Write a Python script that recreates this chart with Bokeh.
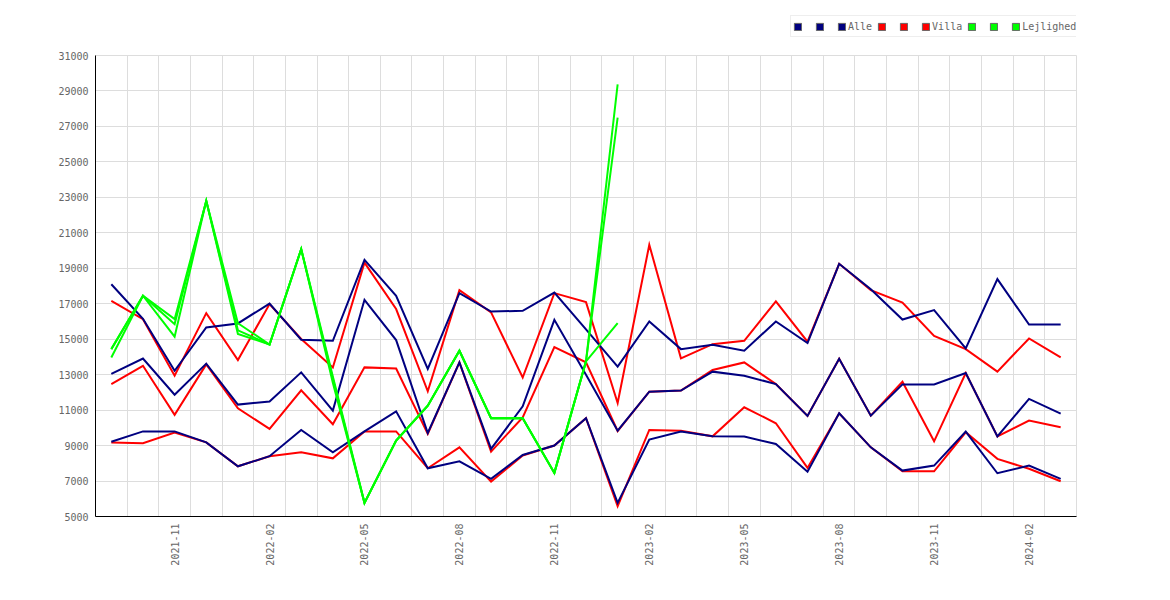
import math
from bokeh.plotting import figure
from bokeh.layouts import column
from bokeh.models import FixedTicker, Legend, LegendItem, Range1d
from bokeh.embed import file_html
from bokeh.resources import INLINE

# ---------------- data ----------------
months = ["2021-09", "2021-10", "2021-11", "2021-12", "2022-01", "2022-02", "2022-03",
          "2022-04", "2022-05", "2022-06", "2022-07", "2022-08", "2022-09", "2022-10",
          "2022-11", "2022-12", "2023-01", "2023-02", "2023-03", "2023-04", "2023-05",
          "2023-06", "2023-07", "2023-08", "2023-09", "2023-10", "2023-11", "2023-12",
          "2024-01", "2024-02", "2024-03"]

tick_months = ["2021-11", "2022-02", "2022-05", "2022-08", "2022-11",
               "2023-02", "2023-05", "2023-08", "2023-11", "2024-02"]

y_ticks = [5000, 7000, 9000, 11000, 13000, 15000, 17000, 19000, 21000,
           23000, 25000, 27000, 29000, 31000]

alle_hi = [18100, 16150, 13220, 15660, 15890, 17010, 14970, 14910, 19470, 17450, 13320,
           17600, 16560, 16600, 17630, 15550, 13450, 16000, 14440, 14690, 14350, 16000,
           14780, 19250, 17820, 16110, 16640, 14480, 18390, 15830, 15830]
alle_mid = [13040, 13910, 11870, 13620, 11310, 11490, 13130, 10970, 17220, 14950, 9710,
            13690, 8810, 11210, 16090, 13000, 9840, 12040, 12100, 13170, 12940, 12470,
            10670, 13900, 10690, 12450, 12450, 13090, 9520, 11630, 10800]
alle_lo = [9220, 9800, 9800, 9180, 7830, 8400, 9880, 8620, 9800, 10930, 7720, 8110, 7120,
           8470, 9000, 10540, 5770, 9340, 9790, 9520, 9505, 9090, 7530, 10820, 8900, 7590,
           7870, 9790, 7440, 7870, 7120]

villa_hi = [17160, 16130, 12940, 16470, 13820, 16980, 15010, 13400, 19320, 16700, 12060,
            17770, 16510, 12840, 17600, 17090, 11400, 20320, 13920, 14720, 14910, 17130,
            14860, 19250, 17770, 17070, 15190, 14440, 13170, 15040, 13970]
villa_mid = [12470, 13500, 10730, 13580, 11100, 9940, 12120, 10200, 13410, 13350, 9660,
             13690, 8660, 10590, 14550, 13700, 9820, 12040, 12100, 13260, 13690, 12470,
             10670, 13900, 10690, 12600, 9240, 13090, 9520, 10410, 10030]
villa_lo = [9170, 9130, 9730, 9180, 7830, 8400, 8620, 8280, 9800, 9800, 7720, 8900, 6970,
            8440, 9000, 10540, 5580, 9880, 9840, 9520, 11160, 10260, 7740, 10820, 8900,
            7550, 7550, 9750, 8250, 7690, 6990]

lej_a = [14440, 17450, 16130, 22800, 15900, 14700, 20080, 12900, 5770, 9280, 11250,
         14350, 10540, 10540, 7460, 13750, 29370]
lej_b = [14440, 17450, 15850, 22800, 15500, 14700, 20080, 12750, 5770, 9280, 11250,
         14350, 10540, 10540, 7460, 13750, 27490]
lej_c = [13970, 17450, 15140, 22800, 15300, 14700, 20080, 12550, 5770, 9280, 11250,
         14350, 10540, 10540, 7460, 13750, 15910]

series_names = ["Alle", "Villa", "Lejlighed"]

# ---------------- style ----------------
NAVY = "#000080"
RED = "#ff0000"
GREEN = "#00ff00"
FONT = "DejaVu Sans Mono"
GRID = "#dddddd"
TEXT = "#666666"

x = list(range(len(months)))

p = figure(frame_width=981, frame_height=461,
           x_range=Range1d(-0.5, len(months) - 0.5),
           y_range=Range1d(y_ticks[0], y_ticks[-1]),
           output_backend="svg", toolbar_location=None,
           min_border_left=95, min_border_top=8, min_border_right=80,
           min_border_bottom=60)
p.outline_line_color = GRID
p.background_fill_color = "white"
p.border_fill_color = "white"

# grids
p.ygrid.ticker = FixedTicker(ticks=y_ticks)
p.xgrid.ticker = FixedTicker(ticks=[i - 0.5 for i in range(len(months) + 1)])
for g in (p.xgrid[0], p.ygrid[0]):
    g.grid_line_color = GRID
    g.grid_line_width = 1

# axes
p.xaxis.ticker = FixedTicker(ticks=[months.index(m) for m in tick_months])
p.xaxis.major_label_overrides = {months.index(m): m for m in tick_months}
p.xaxis.major_label_orientation = math.pi / 2
p.yaxis.ticker = FixedTicker(ticks=y_ticks)
for ax in (p.xaxis[0], p.yaxis[0]):
    ax.axis_line_color = "black"
    ax.axis_line_width = 1
    ax.major_tick_out = 0
    ax.major_tick_in = 0
    ax.minor_tick_out = 0
    ax.minor_tick_in = 0
    ax.major_label_text_font = FONT
    ax.major_label_text_font_size = "10px"
    ax.major_label_text_color = TEXT
    ax.major_label_standoff = 7

# lines (red first, navy over it, green on top)
for ys, color in [(villa_hi, RED), (villa_mid, RED), (villa_lo, RED),
                  (alle_hi, NAVY), (alle_mid, NAVY), (alle_lo, NAVY),
                  (lej_a, GREEN), (lej_b, GREEN), (lej_c, GREEN)]:
    p.line(x[:len(ys)], ys, line_color=color, line_width=2, line_join="miter")

# ---------------- legend strip above the plot ----------------
leg = figure(width=1156, height=47, x_axis_type=None, y_axis_type=None,
             x_range=Range1d(0, 1), y_range=Range1d(0, 1),
             output_backend="svg", toolbar_location=None,
             min_border=0, outline_line_color=None)
leg.xgrid.visible = False
leg.ygrid.visible = False
leg.background_fill_color = "white"
leg.border_fill_color = "white"

def swatch(color):
    # swatch renderer only used for its legend glyph (NaN -> nothing drawn)
    return leg.quad(left=[math.nan], right=[math.nan], top=[math.nan],
                    bottom=[math.nan], fill_color=color,
                    line_color="#666666", line_width=1)

items = []
for name, color in zip(series_names, [NAVY, RED, GREEN]):
    items.append(LegendItem(label="", renderers=[swatch(color)]))
    items.append(LegendItem(label="", renderers=[swatch(color)]))
    items.append(LegendItem(label=name, renderers=[swatch(color)]))

legend = Legend(items=items, orientation="horizontal", location=(695, 10),
                glyph_width=9, glyph_height=9, label_standoff=2, spacing=5,
                padding=2, label_width=6, label_height=16, margin=0,
                label_text_font=FONT, label_text_font_size="10px",
                label_text_color=TEXT, border_line_color=GRID,
                background_fill_color="white", background_fill_alpha=1.0)
leg.add_layout(legend)

layout = column(leg, p, spacing=0)
open("out.html", "w").write(file_html(layout, INLINE))
